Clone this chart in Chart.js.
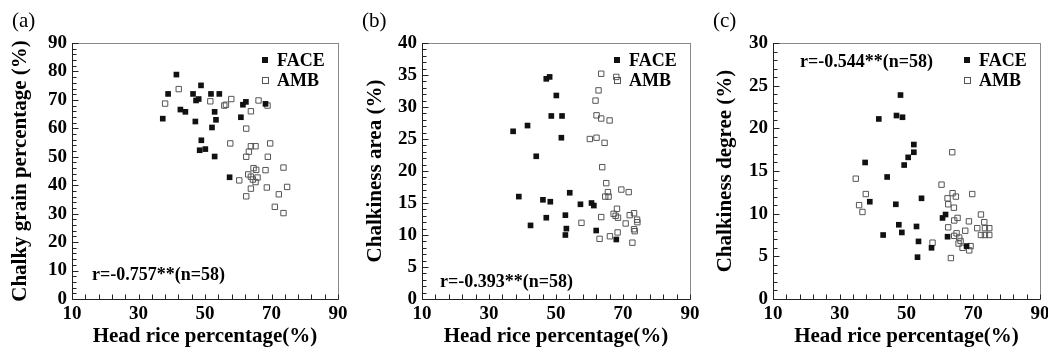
<!DOCTYPE html>
<html>
<head>
<meta charset="utf-8">
<script src="https://cdn.jsdelivr.net/npm/chart.js@4.4.0/dist/chart.umd.min.js"></script>
<style>
  body { margin: 0; background: #fff; width: 1048px; height: 352px; position: relative; overflow: hidden; }
  canvas { position: absolute; top: 0; }
</style>
</head>
<body>
<canvas id="chartA" width="349" height="352" style="left:0"></canvas>
<canvas id="chartB" width="350" height="352" style="left:349px"></canvas>
<canvas id="chartC" width="349" height="352" style="left:699px"></canvas>
<script>
// Head rice percentage (x) vs chalkiness traits (y), FACE and AMB plots
const xLabeledTicks = [10, 30, 50, 70, 90];

// (a) chalky grain percentage
const faceHeadRiceA = [41.4, 48.8, 38.9, 46.4, 51.8, 54.3, 47.3, 48.1, 61.4, 62.3, 42.6, 44.1, 52.9, 37.3, 47.1, 53.3, 60.8, 52.1, 48.9, 48.4, 50.1, 52.9, 57.4, 68.2];
const faceChalkyGrain = [78.9, 75.1, 72.1, 72.1, 72.1, 72.1, 69.8, 70.3, 68.3, 69.3, 66.6, 65.8, 65.8, 63.4, 62.4, 63.0, 63.9, 60.3, 55.8, 52.3, 52.7, 50.1, 42.8, 68.6];
const ambHeadRiceA = [38.0, 42.1, 51.6, 55.8, 56.3, 57.9, 63.8, 66.1, 68.8, 62.4, 57.6, 69.6, 63.8, 65.2, 63.2, 62.4, 68.9, 64.6, 65.4, 68.2, 73.6, 63.0, 63.8, 65.8, 65.2, 60.3, 63.8, 68.6, 74.7, 72.2, 62.4, 71.0, 73.6, 64.4];
const ambChalkyGrain = [68.7, 73.8, 69.5, 68.0, 68.3, 70.3, 66.0, 69.8, 68.0, 59.9, 54.7, 54.7, 53.7, 53.7, 51.8, 50.0, 50.0, 46.0, 45.4, 45.3, 46.2, 43.8, 43.0, 42.7, 41.1, 41.7, 38.8, 39.2, 39.4, 36.8, 36.1, 32.4, 30.2, 42.0];

// (b) chalkiness area
const faceHeadRiceB = [47.1, 48.1, 50.1, 48.6, 51.8, 37.2, 41.5, 51.6, 44.1, 38.9, 46.1, 48.3, 54.1, 57.3, 60.6, 61.3, 47.1, 52.8, 42.4, 53.1, 52.8, 62.0, 68.0];
const faceChalkArea = [34.4, 34.7, 31.8, 28.6, 28.6, 26.2, 27.1, 25.2, 22.3, 16.0, 15.5, 15.2, 16.6, 14.8, 15.0, 14.6, 12.7, 13.1, 11.5, 11.0, 10.0, 10.7, 9.3];
const ambHeadRiceB = [63.5, 68.0, 62.7, 61.8, 62.1, 63.5, 66.0, 60.1, 62.1, 64.5, 63.8, 65.0, 65.5, 64.7, 65.7, 69.5, 71.7, 63.5, 57.6, 68.2, 67.2, 67.8, 68.5, 70.8, 72.0, 73.3, 74.2, 74.3, 73.3, 73.5, 68.4, 66.1, 63.0, 72.8];
const ambChalkArea = [35.2, 34.7, 32.6, 31.0, 28.7, 28.2, 27.9, 25.0, 25.2, 24.4, 20.6, 18.1, 16.7, 16.0, 16.0, 17.1, 16.7, 12.8, 11.9, 14.1, 13.3, 13.0, 12.7, 11.8, 13.1, 13.4, 12.4, 12.0, 10.9, 10.6, 10.4, 9.8, 9.4, 8.8];

// (c) chalkiness degree
const faceHeadRiceC = [48.2, 41.7, 47.0, 48.8, 52.2, 52.2, 50.5, 49.3, 37.6, 44.2, 54.5, 39.0, 46.8, 60.8, 61.7, 47.7, 53.0, 48.6, 43.0, 62.3, 53.6, 57.5, 53.3, 68.0];
const faceChalkDegree = [23.9, 21.1, 21.5, 21.3, 18.1, 17.2, 16.6, 15.7, 16.0, 14.3, 11.8, 11.4, 11.1, 9.5, 9.9, 8.7, 8.5, 7.8, 7.5, 7.3, 6.75, 6.0, 4.9, 6.2];
const ambHeadRiceC = [34.8, 37.8, 35.8, 36.8, 63.7, 60.5, 63.8, 64.8, 62.3, 69.7, 62.5, 64.2, 72.3, 65.3, 64.3, 68.7, 62.5, 73.3, 71.2, 73.5, 74.8, 72.3, 73.5, 74.8, 67.6, 64.3, 65.0, 65.8, 66.2, 65.6, 66.8, 68.8, 69.2, 57.8, 63.3];
const ambChalkDegree = [14.1, 12.3, 11.0, 10.2, 17.2, 13.4, 12.4, 12.0, 11.8, 12.3, 11.1, 10.7, 9.9, 9.5, 9.2, 9.1, 8.4, 9.0, 8.3, 8.3, 8.3, 7.5, 7.5, 7.5, 8.0, 7.4, 7.7, 7.2, 6.8, 6.5, 6.0, 5.7, 6.2, 6.6, 4.8];

const SERIF = "'Liberation Serif', 'Times New Roman', serif";

function toPoints(xs, ys) {
    return xs.map((x, i) => ({ x: x, y: ys[i] }));
}

// frame with inward ticks
function drawFrame(chart) {
    const ctx = chart.ctx;
    const a = chart.chartArea;
    const xs = chart.scales.x, ys = chart.scales.y;
    ctx.save();
    ctx.lineWidth = 1;
    ctx.strokeStyle = '#8a8a8a';
    ctx.strokeRect(Math.round(a.left) + 0.5, Math.round(a.top) + 0.5, Math.round(a.right - a.left), Math.round(a.bottom - a.top));
    ctx.strokeStyle = '#222';
    ctx.beginPath();
    const left = Math.round(a.left) + 0.5, bottom = Math.round(a.bottom) + 0.5;
    ctx.moveTo(left, a.top);
    ctx.lineTo(left, bottom);
    ctx.lineTo(a.right, bottom);
    xs.ticks.forEach(t => {
        const px = Math.round(xs.getPixelForValue(t.value)) + 0.5;
        ctx.moveTo(px, bottom);
        ctx.lineTo(px, bottom - 5);
    });
    ys.ticks.forEach(t => {
        const py = Math.round(ys.getPixelForValue(t.value)) + 0.5;
        ctx.moveTo(left, py);
        ctx.lineTo(left + (t.label !== '' ? 6 : 4), py);
    });
    ctx.stroke();
    ctx.restore();
}

// legend, panel letter and r value
const panelDecor = {
    id: 'panelDecor',
    afterDraw(chart, args, opts) {
        drawFrame(chart);
        const ctx = chart.ctx;
        const a = chart.chartArea;
        ctx.save();
        ctx.fillStyle = '#000';
        ctx.textBaseline = 'middle';
        ctx.font = '21px ' + SERIF;
        ctx.fillText(opts.letter, opts.letterX, 21);
        ctx.font = 'bold 18px ' + SERIF;
        const mx = a.right - 73;
        ctx.fillStyle = '#111';
        ctx.fillRect(mx - 3, a.top + 17 - 3, 6, 6);
        ctx.strokeStyle = '#555';
        ctx.strokeRect(mx - 2.5, a.top + 37 - 2.5, 6, 6);
        ctx.fillStyle = '#000';
        ctx.fillText('FACE', a.right - 61, a.top + 18);
        ctx.fillText('AMB', a.right - 61, a.top + 38);
        ctx.fillText(opts.rText, a.left + opts.rDx, opts.rY);
        ctx.restore();
    }
};

function makePanel(id, cfg) {
    return new Chart(document.getElementById(id), {
        type: 'scatter',
        data: {
            datasets: [
                {
                    label: 'FACE',
                    data: toPoints(cfg.faceX, cfg.faceY),
                    pointStyle: 'rect',
                    pointRadius: 4,
                    backgroundColor: '#111',
                    borderColor: '#111',
                    borderWidth: 0
                },
                {
                    label: 'AMB',
                    data: toPoints(cfg.ambX, cfg.ambY),
                    pointStyle: 'rect',
                    pointRadius: 3.8,
                    backgroundColor: 'rgba(255,255,255,0)',
                    borderColor: '#555',
                    borderWidth: 1
                }
            ]
        },
        options: {
            responsive: false,
            animation: false,
            events: [],
            layout: { padding: { top: 43, right: cfg.padRight, left: 0, bottom: 0 } },
            plugins: {
                legend: { display: false },
                tooltip: { enabled: false },
                panelDecor: { letter: cfg.letter, letterX: cfg.letterX, rText: cfg.rText, rDx: cfg.rDx, rY: cfg.rY }
            },
            scales: {
                x: {
                    type: 'linear',
                    min: 10,
                    max: 90,
                    grid: { display: false, drawTicks: false },
                    border: { display: false },
                    ticks: {
                        stepSize: 4,
                        autoSkip: false,
                        maxRotation: 0,
                        padding: 4,
                        color: '#000',
                        font: { family: SERIF, size: 19, weight: 'bold' },
                        callback: v => xLabeledTicks.includes(v) ? String(v) : ''
                    },
                    title: {
                        display: true,
                        text: 'Head rice percentage(%)',
                        color: '#000',
                        font: { family: SERIF, size: 21, weight: 'bold' },
                        padding: { top: 0, bottom: 3 }
                    },
                    afterFit: s => { s.height = 53; s.paddingLeft = 0; s.paddingRight = 0; }
                },
                y: {
                    min: 0,
                    max: cfg.yMax,
                    grid: { display: false, drawTicks: false },
                    border: { display: false },
                    ticks: {
                        stepSize: cfg.yMinor,
                        autoSkip: false,
                        padding: 5,
                        color: '#000',
                        font: { family: SERIF, size: 19, weight: 'bold' },
                        callback: v => cfg.yLabeledTicks.includes(v) ? String(v) : ''
                    },
                    title: {
                        display: true,
                        text: cfg.yTitle,
                        color: '#000',
                        font: { family: SERIF, size: 21, weight: 'bold' },
                        padding: { top: cfg.yTitlePad, bottom: 0 }
                    },
                    afterFit: s => { s.width = cfg.yWidth; s.paddingTop = 0; s.paddingBottom = 0; }
                }
            }
        },
        plugins: [panelDecor]
    });
}

makePanel('chartA', {
    faceX: faceHeadRiceA, faceY: faceChalkyGrain, ambX: ambHeadRiceA, ambY: ambChalkyGrain,
    yMax: 90, yMinor: 2, yLabeledTicks: [0, 10, 20, 30, 40, 50, 60, 70, 80, 90],
    yTitle: 'Chalky grain percentage (%)', yTitlePad: 8, yWidth: 72, padRight: 11,
    letter: '(a)', letterX: 12, rText: 'r=-0.757**(n=58)', rDx: 20, rY: 275
});

makePanel('chartB', {
    faceX: faceHeadRiceB, faceY: faceChalkArea, ambX: ambHeadRiceB, ambY: ambChalkArea,
    yMax: 40, yMinor: 1, yLabeledTicks: [0, 5, 10, 15, 20, 25, 30, 35, 40],
    yTitle: 'Chalkiness area (%)', yTitlePad: 14, yWidth: 73, padRight: 9,
    letter: '(b)', letterX: 13, rText: 'r=-0.393**(n=58)', rDx: 18, rY: 282
});

makePanel('chartC', {
    faceX: faceHeadRiceC, faceY: faceChalkDegree, ambX: ambHeadRiceC, ambY: ambChalkDegree,
    yMax: 30, yMinor: 1, yLabeledTicks: [0, 5, 10, 15, 20, 25, 30],
    yTitle: 'Chalkiness degree (%)', yTitlePad: 14, yWidth: 74, padRight: 8,
    letter: '(c)', letterX: 14, rText: 'r=-0.544**(n=58)', rDx: 27, rY: 62
});
</script>
</body>
</html>
